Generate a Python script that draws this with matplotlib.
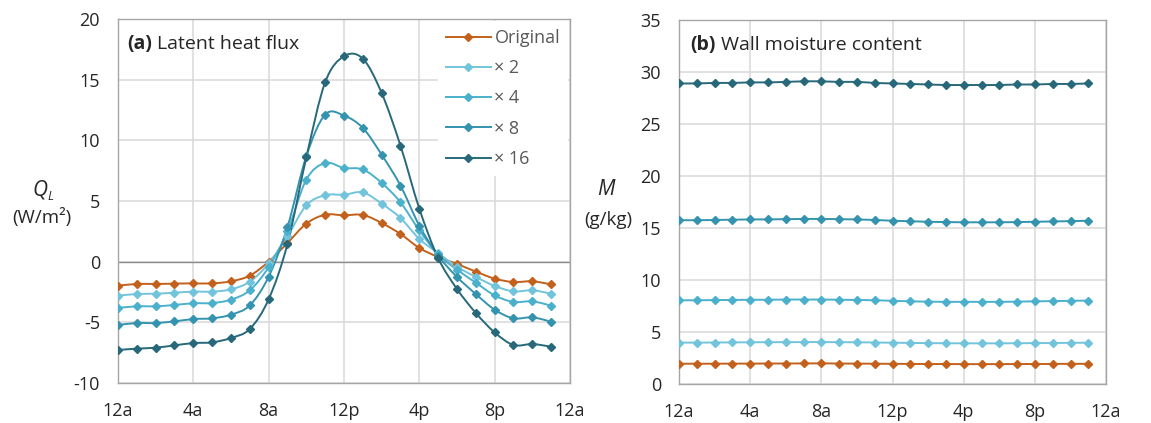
import numpy as np
import matplotlib
matplotlib.use("Agg")
import matplotlib.pyplot as plt
from matplotlib.path import Path
from matplotlib.patches import PathPatch
from matplotlib.lines import Line2D

plt.rcParams['font.family'] = ['Open Sans', 'DejaVu Sans']
plt.rcParams['axes.unicode_minus'] = False

hours = np.arange(24)
tick_hours = [0, 4, 8, 12, 16, 20, 24]
tick_labels = ['12a', '4a', '8a', '12p', '4p', '8p', '12a']
series_names = ['Original', '× 2', '× 4', '× 8', '× 16']
colors = ['#C3601B', '#72C4DC', '#4BB0CC', '#3493AF', '#27687A']

# (a) latent heat flux, W/m2
ql_original = [-1.98, -1.84, -1.84, -1.81, -1.79, -1.79, -1.62, -1.15, 0.0, 1.54, 3.13, 3.87,
               3.82, 3.85, 3.19, 2.28, 1.13, 0.38, -0.19, -0.82, -1.40, -1.68, -1.62, -1.87]
ql_x2 = [-2.80, -2.67, -2.64, -2.56, -2.47, -2.47, -2.28, -1.65, -0.15, 2.10, 4.64, 5.48,
         5.52, 5.71, 4.78, 3.60, 1.87, 0.70, -0.42, -1.26, -2.00, -2.45, -2.36, -2.64]
ql_x4 = [-3.82, -3.68, -3.68, -3.57, -3.43, -3.41, -3.13, -2.36, -0.45, 2.50, 6.76, 8.13,
         7.72, 7.60, 6.49, 4.89, 2.58, 0.60, -0.66, -1.73, -2.78, -3.32, -3.27, -3.63]
ql_x8 = [-5.22, -5.06, -5.06, -4.92, -4.73, -4.67, -4.37, -3.60, -1.24, 2.86, 8.70, 12.12,
         12.04, 11.02, 8.82, 6.27, 2.97, 0.50, -1.26, -2.67, -3.96, -4.67, -4.59, -4.95]
ql_x16 = [-7.28, -7.17, -7.09, -6.90, -6.71, -6.65, -6.29, -5.55, -3.10, 1.46, 8.60, 14.78,
          16.93, 16.73, 13.90, 9.56, 4.37, 0.30, -2.25, -4.23, -5.83, -6.87, -6.79, -7.01]

# (b) wall moisture content, g/kg
m_original = [1.95, 1.95, 1.95, 1.96, 1.96, 1.97, 1.97, 1.98, 1.98, 1.97, 1.96, 1.95,
              1.94, 1.93, 1.92, 1.92, 1.91, 1.91, 1.91, 1.92, 1.92, 1.93, 1.94, 1.94]
m_x2 = [3.98, 3.98, 3.99, 4.00, 4.01, 4.02, 4.02, 4.03, 4.03, 4.02, 4.01, 3.99,
        3.97, 3.95, 3.93, 3.92, 3.91, 3.91, 3.91, 3.92, 3.93, 3.94, 3.96, 3.97]
m_x4 = [8.05, 8.05, 8.07, 8.08, 8.10, 8.10, 8.12, 8.12, 8.12, 8.10, 8.08, 8.05,
        8.00, 7.95, 7.92, 7.90, 7.90, 7.90, 7.90, 7.92, 7.95, 7.97, 8.00, 8.02]
m_x8 = [15.75, 15.75, 15.77, 15.80, 15.82, 15.83, 15.85, 15.87, 15.87, 15.85, 15.82, 15.77,
        15.70, 15.65, 15.60, 15.57, 15.55, 15.55, 15.55, 15.57, 15.60, 15.63, 15.66, 15.70]
m_x16 = [28.90, 28.90, 28.95, 28.95, 29.00, 29.00, 29.05, 29.10, 29.10, 29.05, 29.05, 28.95,
         28.90, 28.85, 28.80, 28.75, 28.75, 28.75, 28.75, 28.80, 28.80, 28.85, 28.85, 28.90]

ql_series = [ql_original, ql_x2, ql_x4, ql_x8, ql_x16]
m_series = [m_original, m_x2, m_x4, m_x8, m_x16]

text_color = '#262626'
grid_color = '#D9D9D9'
axis_color = '#A6A6A6'


def smooth_path(x, y):
    # Excel style smoothed line: cubic bezier segments through every point
    x = np.asarray(x, float)
    y = np.asarray(y, float)
    verts = [(x[0], y[0])]
    codes = [Path.MOVETO]
    n = len(x)
    for i in range(n - 1):
        x0, y0 = (x[i - 1], y[i - 1]) if i > 0 else (x[i], y[i])
        x3, y3 = (x[i + 2], y[i + 2]) if i + 2 < n else (x[i + 1], y[i + 1])
        c1 = (x[i] + (x[i + 1] - x0) / 6, y[i] + (y[i + 1] - y0) / 6)
        c2 = (x[i + 1] - (x3 - x[i]) / 6, y[i + 1] - (y3 - y[i]) / 6)
        verts += [c1, c2, (x[i + 1], y[i + 1])]
        codes += [Path.CURVE4] * 3
    return Path(verts, codes)


def draw_panel(ax, series, ylim, yticks):
    for vals, col in zip(series, colors):
        ax.add_patch(PathPatch(smooth_path(hours, vals), facecolor='none',
                               edgecolor=col, lw=1.4, zorder=3))
        ax.plot(hours, vals, ls='none', marker='D', ms=3.6, color=col, zorder=4)
    ax.set_xlim(0, 24)
    ax.set_ylim(*ylim)
    ax.set_xticks(tick_hours)
    ax.set_xticklabels(tick_labels)
    ax.set_yticks(yticks)
    ax.grid(True, color=grid_color, lw=1.1)
    ax.set_axisbelow(True)
    ax.tick_params(length=0, labelsize=13, colors=text_color)
    ax.tick_params(axis='y', pad=13)
    ax.tick_params(axis='x', pad=14)
    for sp in ax.spines.values():
        sp.set_color(axis_color)
        sp.set_linewidth(1.0)


fig = plt.figure(figsize=(11.51, 4.23), dpi=100)
ax1 = fig.add_axes([0.1025, 0.0946, 0.3927, 0.8605])
ax2 = fig.add_axes([0.590, 0.0922, 0.371, 0.8605])

draw_panel(ax1, ql_series, (-10, 20), range(-10, 21, 5))
ax1.axhline(0, color='#8C8C8C', lw=1.0, zorder=2)
draw_panel(ax2, m_series, (0, 35), range(0, 36, 5))

handles = [Line2D([], [], color=c, lw=1.4, marker='D', ms=3.6) for c in colors]
leg = ax1.legend(handles, series_names, loc='upper right', bbox_to_anchor=(1.0, 1.0),
                 frameon=True, fancybox=False, framealpha=1, edgecolor='none',
                 fontsize=13, handlelength=2.5, handletextpad=0.2, labelspacing=0.68,
                 borderpad=0.45, borderaxespad=0.1, labelcolor='#595959')
leg.set_zorder(5)

fig.canvas.draw()
renderer = fig.canvas.get_renderer()


def panel_title(ax, x, tag, rest):
    t = ax.text(x, 0.93, tag, transform=ax.transAxes, fontsize=14,
                fontweight='bold', color=text_color, va='center', ha='left')
    bb = t.get_window_extent(renderer)
    x_end = ax.transAxes.inverted().transform((bb.x1 + 5, 0))[0]
    ax.text(x_end, 0.93, rest, transform=ax.transAxes, fontsize=14,
            color=text_color, va='center', ha='left')


panel_title(ax1, 0.02, '(a)', 'Latent heat flux')
panel_title(ax2, 0.026, '(b)', 'Wall moisture content')

fig.text(40 / 1151, 1 - 190 / 423, 'Q', style='italic', fontsize=15, color=text_color,
         ha='center', va='center')
fig.text(50 / 1151, 1 - 196 / 423, 'L', style='italic', fontsize=9, color=text_color,
         ha='center', va='center')
fig.text(42 / 1151, 1 - 217 / 423, '(W/m²)', fontsize=13.5, color=text_color,
         ha='center', va='center')
fig.text(606 / 1151, 1 - 189 / 423, 'M', style='italic', fontsize=15, color=text_color,
         ha='center', va='center')
fig.text(608 / 1151, 1 - 220 / 423, '(g/kg)', fontsize=13.5, color=text_color,
         ha='center', va='center')

fig.savefig('out.png', dpi=100)
